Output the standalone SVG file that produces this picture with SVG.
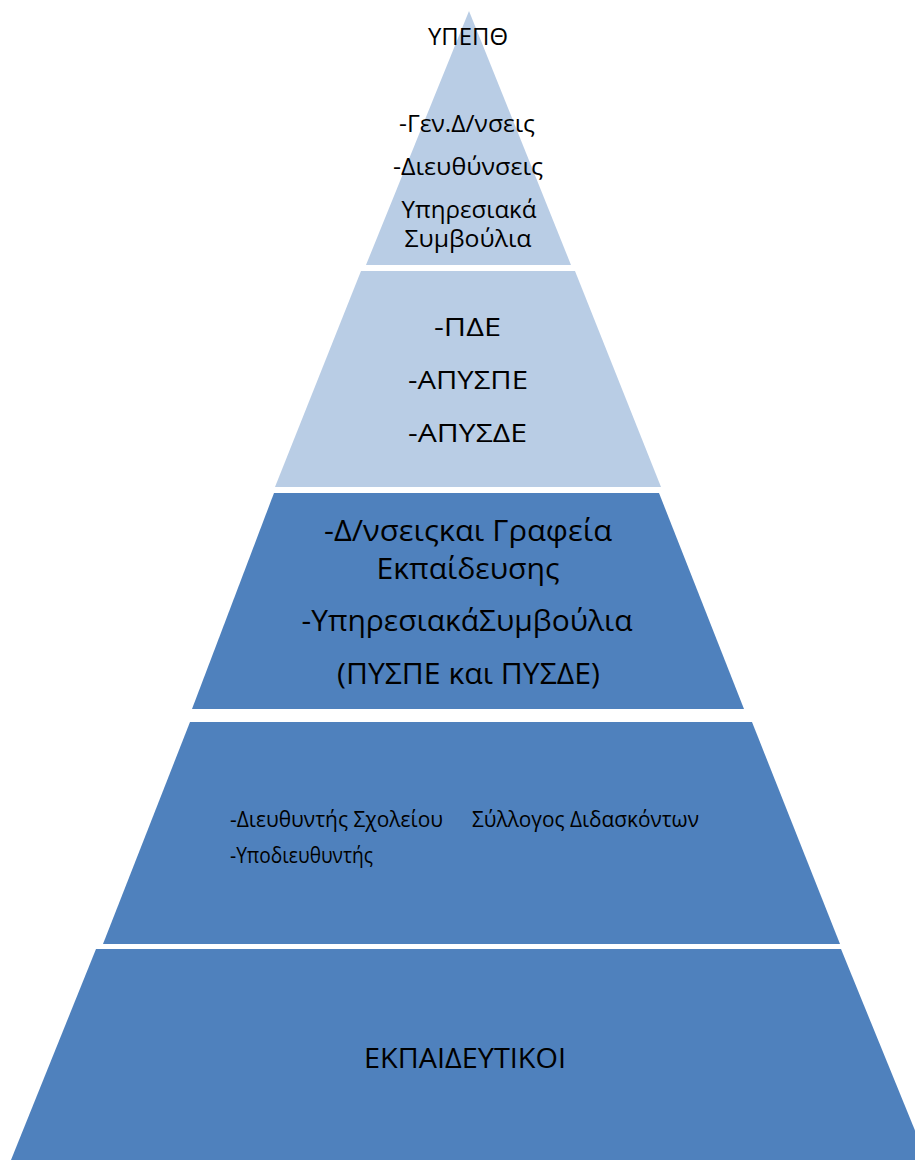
<svg xmlns="http://www.w3.org/2000/svg" width="915" height="1160" viewBox="0 0 915 1160">
<style>
.light{fill:#B9CDE5}
.dark{fill:#4F81BD}
text{font-family:"Open Sans","Noto Sans","DejaVu Sans",sans-serif;fill:#000}
.c{text-anchor:middle}
.t1{font-size:23.5px}
.t2{font-size:26px}
.t3{font-size:30px}
.t4{font-size:22px}
.t5{font-size:28px}
</style>
<rect width="915" height="1160" fill="#fff"/>
<g id="tier1">
<polygon class="light" points="469,11 571,265 366,265"/>
<text class="t1 c" x="468" y="45" textLength="80" lengthAdjust="spacingAndGlyphs">ΥΠΕΠΘ</text>
<text class="t1 c" x="467" y="132" textLength="136" lengthAdjust="spacingAndGlyphs">-Γεν.Δ/νσεις</text>
<text class="t1 c" x="468" y="175" textLength="150" lengthAdjust="spacingAndGlyphs">-Διευθύνσεις</text>
<text class="t1 c" x="469" y="218" textLength="135" lengthAdjust="spacingAndGlyphs">Υπηρεσιακά</text>
<text class="t1 c" x="468" y="247" textLength="127" lengthAdjust="spacingAndGlyphs">Συμβούλια</text>
</g>
<g id="tier2">
<polygon class="light" points="361,271 575,271 661,487 275,487"/>
<text class="t2 c" x="467.5" y="336" textLength="67" lengthAdjust="spacingAndGlyphs">-ΠΔΕ</text>
<text class="t2 c" x="468" y="389" textLength="120" lengthAdjust="spacingAndGlyphs">-ΑΠΥΣΠΕ</text>
<text class="t2 c" x="467.5" y="442" textLength="119" lengthAdjust="spacingAndGlyphs">-ΑΠΥΣΔΕ</text>
</g>
<g id="tier3">
<polygon class="dark" points="274,493 659,493 744,709 192,709"/>
<text class="t3 c" x="468" y="541" textLength="288" lengthAdjust="spacingAndGlyphs">-Δ/νσειςκαι Γραφεία</text>
<text class="t3 c" x="468" y="579" textLength="183" lengthAdjust="spacingAndGlyphs">Εκπαίδευσης</text>
<text class="t3 c" x="467" y="631" textLength="331" lengthAdjust="spacingAndGlyphs">-ΥπηρεσιακάΣυμβούλια</text>
<text class="t3 c" x="468.5" y="684" textLength="263" lengthAdjust="spacingAndGlyphs">(ΠΥΣΠΕ και ΠΥΣΔΕ)</text>
</g>
<g id="tier4">
<polygon class="dark" points="190,722 752,722 840,944 103,944"/>
<text class="t4" x="230" y="827" textLength="213" lengthAdjust="spacingAndGlyphs">-Διευθυντής Σχολείου</text>
<text class="t4" x="472" y="827" textLength="227" lengthAdjust="spacingAndGlyphs">Σύλλογος Διδασκόντων</text>
<text class="t4" x="230" y="863" textLength="143" lengthAdjust="spacingAndGlyphs">-Υποδιευθυντής</text>
</g>
<g id="tier5">
<polygon class="dark" points="96,949 841,949 927,1160 11,1160"/>
<text class="t5 c" x="465" y="1068" textLength="202" lengthAdjust="spacingAndGlyphs">ΕΚΠΑΙΔΕΥΤΙΚΟΙ</text>
</g>
<g id="connectors"/>
</svg>
